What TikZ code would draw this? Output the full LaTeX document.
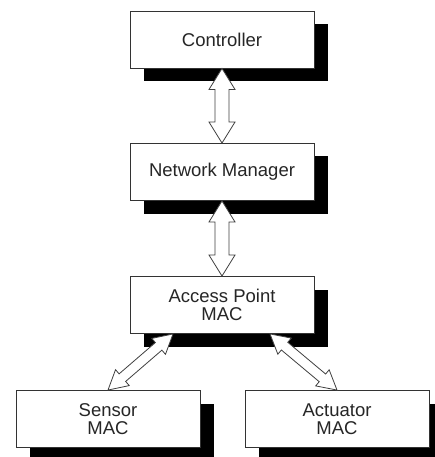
\documentclass[tikz,border=0pt]{standalone}
\usepackage{fontspec}
\setmainfont{Liberation Sans}
\usetikzlibrary{shadows,calc}
\tikzset{
  box/.style={draw=black!80, line width=0.9pt, fill=white,
    minimum width=184pt, minimum height=57pt, inner sep=0pt, align=center,
    font=\fontsize{18.5}{18.5}\selectfont, text=black!85,
    drop shadow={shadow xshift=14pt, shadow yshift=-13pt, opacity=1, fill=black, draw=none}},
  harrow/.style={draw=black!75, line width=0.8pt, fill=white, line join=miter}
}
% from, to, head length, head half width, shaft half width
\newcommand\hollowarrow[5]{%
  \path[harrow] (#1)
    -- ($(#1)!#3!(#2)!#4!90:(#2)$)
    -- ($(#1)!#3!(#2)!#5!90:(#2)$)
    -- ($(#2)!#3!(#1)!#5!-90:(#1)$)
    -- ($(#2)!#3!(#1)!#4!-90:(#1)$)
    -- (#2)
    -- ($(#2)!#3!(#1)!#4!90:(#1)$)
    -- ($(#2)!#3!(#1)!#5!90:(#1)$)
    -- ($(#1)!#3!(#2)!#5!-90:(#2)$)
    -- ($(#1)!#3!(#2)!#4!-90:(#2)$)
    -- cycle;}
\begin{document}
\begin{tikzpicture}[x=1pt,y=-1pt]
  \useasboundingbox (0,0) rectangle (435,457);
  \node[box] (ctrl) at (222,39.5) {Controller};
  \node[box] (net)  at (222,172) {Network Manager};
  \node[box] (ap)   at (222,305) {Access Point\\MAC};
  \node[box] (sen)  at (108,419) {Sensor\\MAC};
  \node[box] (act)  at (337,419) {Actuator\\MAC};
  \coordinate (apl) at ($(ap.south)+(-49,0)$);
  \coordinate (apr) at ($(ap.south)+(48,0)$);
  \hollowarrow{ctrl.south}{net.north}{21pt}{13pt}{7pt}
  \hollowarrow{net.south}{ap.north}{21pt}{13pt}{7pt}
  \hollowarrow{apl}{sen.north}{19pt}{10.5pt}{5pt}
  \hollowarrow{apr}{act.north}{19pt}{10.5pt}{5pt}
\end{tikzpicture}
\end{document}
